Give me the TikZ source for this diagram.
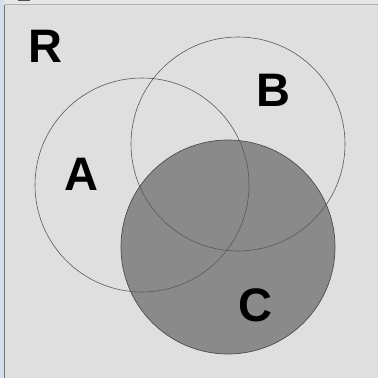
\documentclass[tikz,border=0pt]{standalone}
\usepackage{fontspec}
\setmainfont{Liberation Sans}
\definecolor{bg}{HTML}{DFDFDF}
\definecolor{topstrip}{HTML}{E6E6E6}
\definecolor{leftstrip}{HTML}{D3DFEC}
\definecolor{cfill}{HTML}{8A8A8A}
\tikzset{
  lbl/.style={inner sep=0pt, anchor=center, font=\fontsize{47}{47}\selectfont\bfseries},
  setline/.style={draw=black!65, line width=0.6pt},
}
\begin{document}
\begin{tikzpicture}[x=1pt,y=-1pt]
\useasboundingbox (0,0) rectangle (378,378);
\fill[bg] (0,0) rectangle (378,378);
\fill[topstrip] (0,0) rectangle (378,4);
\fill[leftstrip] (0,0) rectangle (3.5,378);
\draw[black!55, line width=1pt] (4.5,4.5) -- (4.5,378);
\draw[black!30, line width=1.2pt] (4.5,4.6) -- (378,4.6);
\fill[black!70] (18,0) rectangle (30,1.2);
% set C filled
\filldraw[fill=cfill, draw=black!70, line width=0.7pt] (228,247) circle (107);
% sets A and B
\draw[setline] (142,185) circle (107);
\draw[setline] (238,144) circle (107);
% labels
\node[lbl] (R) at (45,46) {R};
\node[lbl] (A) at (81,174) {A};
\node[lbl] (B) at (273.5,90) {B};
\node[lbl] (C) at (255,305) {C};
\end{tikzpicture}
\end{document}
